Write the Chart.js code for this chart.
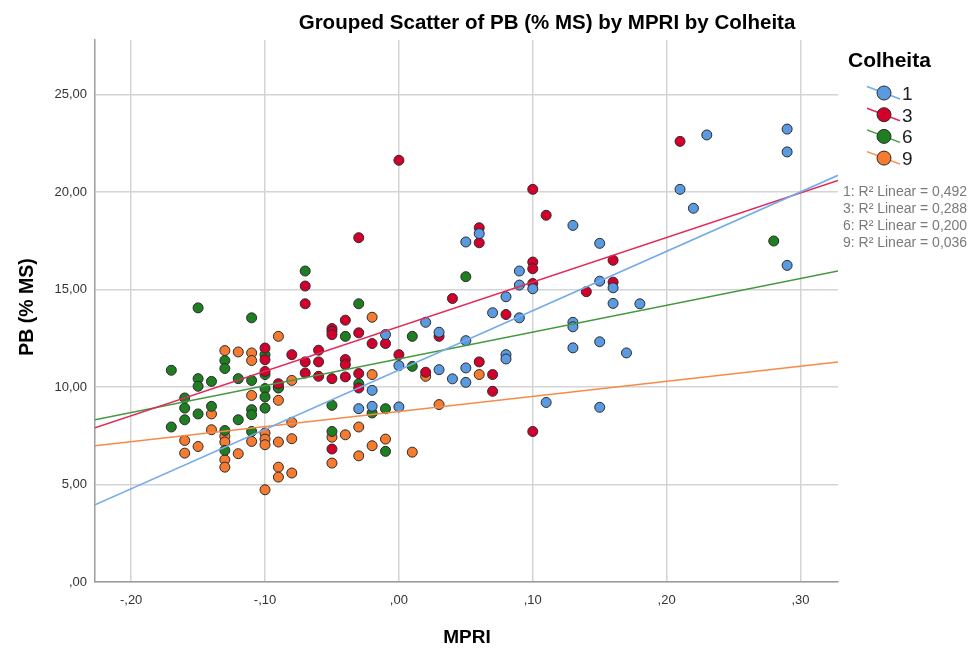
<!DOCTYPE html>
<html>
<head>
<meta charset="utf-8">
<script src="https://cdn.jsdelivr.net/npm/chart.js@4.4.1/dist/chart.umd.min.js"></script>
<style>
  html, body { margin: 0; padding: 0; background: #fff; }
  #wrap { width: 973px; height: 649px; }
</style>
</head>
<body>
<div id="wrap"><canvas id="chart-canvas" width="973" height="649"></canvas></div>
<script>
// Colheita 1
const mpri1 = [-0.03, -0.02, -0.02, -0.01, 0.00, 0.00, 0.02, 0.03, 0.03, 0.04, 0.05, 0.05, 0.05, 0.05,
  0.06, 0.07, 0.08, 0.08, 0.08, 0.09, 0.09, 0.09, 0.10, 0.11, 0.13, 0.13, 0.13, 0.13, 0.15, 0.15, 0.15,
  0.15, 0.16, 0.16, 0.17, 0.18, 0.21, 0.22, 0.23, 0.29, 0.29, 0.29];
const pb1 = [8.89, 9.83, 9.01, 12.69, 11.10, 8.98, 13.32, 12.81, 10.89, 10.42, 17.44, 12.38, 10.98, 10.24,
  17.87, 13.81, 14.63, 11.66, 11.44, 15.95, 15.23, 13.55, 15.04, 9.21, 18.29, 13.32, 13.09, 12.01, 17.37, 15.43, 12.32,
  8.96, 15.09, 14.29, 11.75, 14.27, 20.14, 19.17, 22.93, 23.23, 22.06, 16.24];

// Colheita 3
const mpri3 = [-0.10, -0.10, -0.10, -0.09, -0.08, -0.07, -0.07, -0.07, -0.07, -0.06, -0.06, -0.06,
  -0.05, -0.05, -0.05, -0.05, -0.05, -0.04, -0.04, -0.04, -0.04, -0.03, -0.03, -0.03, -0.03, -0.02, -0.01,
  0.00, 0.00, 0.02, 0.03, 0.04, 0.06, 0.06, 0.06, 0.07, 0.07, 0.08, 0.10, 0.10, 0.10, 0.10, 0.10, 0.11,
  0.14, 0.16, 0.16, 0.21];
const pb3 = [12.00, 11.40, 10.80, 10.17, 11.66, 15.18, 14.27, 11.29, 10.72, 11.89, 11.29, 10.55,
  13.00, 12.86, 12.69, 10.43, 6.82, 13.43, 11.41, 11.15, 10.52, 17.66, 12.78, 10.69, 9.95, 12.23, 12.23,
  21.63, 11.66, 10.76, 12.60, 14.54, 18.17, 17.40, 11.29, 10.64, 9.78, 13.72, 20.14, 16.41, 16.07, 15.31, 7.72, 18.81,
  14.89, 16.50, 15.38, 22.60];

// Colheita 6
const mpri6 = [-0.17, -0.17, -0.16, -0.16, -0.16, -0.15, -0.15, -0.15, -0.15, -0.14, -0.14, -0.13, -0.13,
  -0.13, -0.13, -0.12, -0.12, -0.11, -0.11, -0.11, -0.11, -0.11, -0.10, -0.10, -0.10, -0.10, -0.10, -0.09,
  -0.07, -0.05, -0.05, -0.04, -0.03, -0.03, -0.02, -0.01, -0.01, 0.01, 0.01, 0.05, 0.28];
const pb6 = [10.86, 7.95, 9.44, 8.92, 8.32, 14.06, 10.43, 10.04, 8.62, 10.29, 9.01, 11.36, 10.95,
  7.77, 6.75, 10.43, 8.32, 13.55, 10.34, 8.84, 8.58, 7.72, 11.66, 10.64, 9.92, 9.49, 8.92, 9.95,
  15.95, 9.06, 7.72, 12.60, 14.27, 10.17, 8.67, 8.89, 6.70, 12.60, 11.06, 15.66, 17.49];

// Colheita 9
const mpri9 = [-0.16, -0.16, -0.15, -0.14, -0.14, -0.13, -0.13, -0.13, -0.13, -0.13, -0.12, -0.12,
  -0.11, -0.11, -0.11, -0.11, -0.10, -0.10, -0.10, -0.10, -0.09, -0.09, -0.09, -0.09, -0.09, -0.09,
  -0.08, -0.08, -0.08, -0.08, -0.05, -0.05, -0.04, -0.03, -0.03, -0.02, -0.02, -0.02, -0.01, 0.01,
  0.02, 0.03, 0.06];
const pb9 = [7.26, 6.61, 6.95, 8.62, 7.81, 11.87, 7.47, 7.18, 6.27, 5.89, 11.80, 6.58,
  11.75, 11.36, 9.57, 7.21, 7.64, 7.33, 7.04, 4.73, 12.60, 9.98, 9.32, 7.18, 5.89, 5.38,
  10.34, 8.19, 7.35, 5.59, 7.43, 6.10, 7.55, 7.95, 6.47, 13.58, 10.64, 6.99, 7.33, 6.66,
  10.55, 9.10, 10.64];

// fit lines, read at the left and right edges of the plot
const fitX = [-0.227, 0.328];
const fit1 = [3.96, 20.86];
const fit3 = [7.91, 20.60];
const fit6 = [8.32, 15.95];
const fit9 = [6.99, 11.29];

const groups = ['1', '3', '6', '9'];
const rSquared = ['0,492', '0,288', '0,200', '0,036'];

const xTickValues = [-0.2, -0.1, 0, 0.1, 0.2, 0.3];
const xTickLabels = ['-,20', '-,10', ',00', ',10', ',20', ',30'];
const yTickValues = [0, 5, 10, 15, 20, 25];
const yTickLabels = [',00', '5,00', '10,00', '15,00', '20,00', '25,00'];

const fillColors = ['#5a9ae0', '#d1002c', '#1f7d22', '#f47b30'];
const lineColors = ['#72aaec', '#e02a58', '#43993f', '#f68a4a'];

const FONT = '"Liberation Sans", Arial, sans-serif';

function pts(xs, ys) {
  return xs.map((x, i) => ({ x: x, y: ys[i] }));
}

const fits = [fit1, fit3, fit6, fit9];
const xs = [mpri1, mpri3, mpri6, mpri9];
const ys = [pb1, pb3, pb6, pb9];

const datasets = [];
fits.forEach((f, i) => {
  datasets.push({
    data: pts(fitX, f),
    showLine: true,
    borderColor: lineColors[i],
    borderWidth: 1.5,
    pointRadius: 0,
    fill: false
  });
});
xs.forEach((x, i) => {
  datasets.push({
    data: pts(x, ys[i]),
    backgroundColor: fillColors[i],
    borderColor: '#2b2b2b',
    borderWidth: 1,
    pointRadius: 5,
    showLine: false
  });
});

const textPlugin = {
  id: 'spssText',
  afterDraw(chart) {
    const c = chart.ctx;
    c.save();
    c.fillStyle = '#000';
    c.textAlign = 'center';
    c.textBaseline = 'alphabetic';
    c.font = 'bold 20.5px ' + FONT;
    c.fillText('Grouped Scatter of PB (% MS) by MPRI by Colheita', 547, 29);

    c.font = 'bold 19px ' + FONT;
    c.fillText('MPRI', 467, 643);
    c.save();
    c.translate(33, 307);
    c.rotate(-Math.PI / 2);
    c.font = 'bold 19.5px ' + FONT;
    c.fillText('PB (% MS)', 0, 0);
    c.restore();

    // legend
    c.textAlign = 'left';
    c.font = 'bold 21px ' + FONT;
    c.fillText('Colheita', 848, 67);
    c.font = '19px ' + FONT;
    groups.forEach((g, i) => {
      const cy = 93 + i * 21.7;
      c.strokeStyle = lineColors[i];
      c.lineWidth = 1.5;
      c.beginPath();
      c.moveTo(867, cy - 6.5);
      c.lineTo(900, cy + 6);
      c.stroke();
      c.beginPath();
      c.arc(884, cy, 7, 0, Math.PI * 2);
      c.fillStyle = fillColors[i];
      c.fill();
      c.strokeStyle = '#2b2b2b';
      c.lineWidth = 1;
      c.stroke();
      c.fillStyle = '#222';
      c.fillText(g, 902, cy + 7);
    });

    c.font = '14px ' + FONT;
    c.fillStyle = '#7a7a7a';
    c.textBaseline = 'middle';
    groups.forEach((g, i) => {
      c.fillText(g + ': R\u00b2 Linear = ' + rSquared[i], 843, 192 + i * 16.9);
    });
    c.restore();
  }
};

new Chart(document.getElementById('chart-canvas'), {
  type: 'scatter',
  data: { datasets: datasets },
  options: {
    responsive: false,
    animation: false,
    devicePixelRatio: 1,
    layout: { padding: { top: 40, right: 135, left: 0, bottom: 0 } },
    plugins: { legend: { display: false }, tooltip: { enabled: false } },
    scales: {
      x: {
        type: 'linear',
        min: -0.227,
        max: 0.328,
        afterBuildTicks: (s) => { s.ticks = xTickValues.map((v) => ({ value: v })); },
        afterFit: (s) => { s.height = 67; },
        ticks: {
          callback: (v, i) => xTickLabels[i],
          font: { family: FONT, size: 13 },
          color: '#333',
          padding: 11,
          maxRotation: 0
        },
        grid: { color: '#d4d4d4', lineWidth: 1.5, drawTicks: false },
        border: { color: '#9c9c9c', width: 1.5 }
      },
      y: {
        type: 'linear',
        min: 0,
        max: 27.8,
        afterBuildTicks: (s) => { s.ticks = yTickValues.map((v) => ({ value: v })); },
        afterFit: (s) => { s.width = 95; },
        ticks: {
          callback: (v, i) => yTickLabels[i],
          font: { family: FONT, size: 13 },
          color: '#333',
          padding: 8
        },
        grid: { color: '#d4d4d4', lineWidth: 1.5, drawTicks: false },
        border: { color: '#9c9c9c', width: 1.5 }
      }
    }
  },
  plugins: [textPlugin]
});
</script>
</body>
</html>
